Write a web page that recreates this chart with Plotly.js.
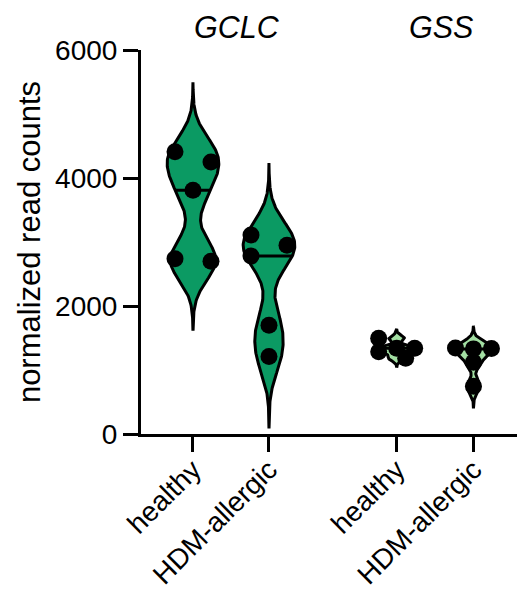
<!DOCTYPE html>
<html><head><meta charset="utf-8">
<script src="https://cdn.plot.ly/plotly-3.0.1.min.js"></script>
<style>html,body{margin:0;padding:0;background:#fff}</style>
</head><body><div id="chart" style="width:517px;height:593px"></div>
<script>
// ---- data ----
const genes = ["GCLC", "GSS"];
const groupLabels = ["healthy", "HDM-allergic", "healthy", "HDM-allergic"];
const gclcHealthy = [4410, 4250, 3810, 2740, 2700];
const gclcAllergic = [3110, 2950, 2780, 1700, 1210];
const gssHealthy = [1495, 1340, 1340, 1285, 1185];
const gssAllergic = [1345, 1335, 1330, 1120, 745];
const yTicks = [0, 2000, 4000, 6000];

// ---- layout / style ----
const series = [gclcHealthy, gclcAllergic, gssHealthy, gssAllergic];
const positions = [0, 1, 2.68, 3.69];
const geneOf = [0, 0, 1, 1];
const fills = ["#0B9A63", "#0B9A63", "#A3DFA3", "#A3DFA3"];
const halfWidths = [0.34, 0.34, 0.26, 0.26];
const W = 517, H = 593, ML = 141, MR = 0, MT = 50, MB = 159;
const xRange = [-0.684, 4.263], yRange = [0, 6000];
const pxX = (W - ML - MR) / (xRange[1] - xRange[0]);
const pxY = (H - MT - MB) / (yRange[1] - yRange[0]);
const LW = 3;

function sd(v){const m=v.reduce((a,b)=>a+b,0)/v.length;return Math.sqrt(v.reduce((a,b)=>a+(b-m)*(b-m),0)/(v.length-1));}
function kde(v,bw,y){let s=0;for(const x of v){const z=(y-x)/bw;s+=Math.exp(-0.5*z*z);}return s;}
function median(v){const s=[...v].sort((a,b)=>a-b);const n=s.length;return n%2?s[(n-1)/2]:(s[n/2-1]+s[n/2])/2;}

function swarm(vals){
  const n=vals.length, D=18, T=12.75;
  const order=vals.map((v,i)=>i).sort((a,b)=>vals[b]-vals[a]);
  const off=new Array(n).fill(0), placed=[];
  order.forEach((i,k)=>{
    const yp=vals[i]*pxY;
    const prev=k>0?vals[order[k-1]]*pxY:null, next=k<n-1?vals[order[k+1]]*pxY:null;
    const inCl=(prev!==null&&Math.abs(prev-yp)<T)||(next!==null&&Math.abs(next-yp)<T);
    const cands=inCl?[-D,D,0,-D/2,D/2,-1.5*D,1.5*D,-2*D,2*D]:[0,-D/2,D/2,-D,D,-2*D,2*D];
    let chosen=cands[cands.length-1];
    for(const c of cands){
      if(placed.every(p=>Math.hypot(p.x-c,p.y-yp)>=T)){chosen=c;break;}
    }
    placed.push({x:chosen,y:yp}); off[i]=chosen/pxX;
  });
  return off;
}

const traces=[], medTraces=[], ptTraces=[];
series.forEach((vals,j)=>{
  const n=vals.length, bw=0.54*sd(vals)*Math.pow(n,-0.2);
  const lo=Math.min(...vals)-3.4*bw, hi=Math.max(...vals)+3.4*bw;
  const N=240, ys=[], ds=[];
  for(let k=0;k<=N;k++){const y=lo+(hi-lo)*k/N;ys.push(y);ds.push(kde(vals,bw,y));}
  const mx=Math.max(...ds);
  const hw=ds.map(d=>halfWidths[j]*d/mx);
  const xs=[], yy=[];
  for(let k=0;k<=N;k++){xs.push(positions[j]+hw[k]);yy.push(ys[k]);}
  for(let k=N;k>=0;k--){xs.push(positions[j]-hw[k]);yy.push(ys[k]);}
  traces.push({type:'scatter',mode:'lines',x:xs,y:yy,fill:'toself',fillcolor:fills[j],
    line:{color:'black',width:LW},hoverinfo:'skip',cliponaxis:false});
  const m=median(vals), mw=halfWidths[j]*kde(vals,bw,m)/mx;
  medTraces.push({type:'scatter',mode:'lines',x:[positions[j]-mw,positions[j]+mw],y:[m,m],
    line:{color:'black',width:LW},hoverinfo:'skip'});
  const off=swarm(vals);
  ptTraces.push({type:'scatter',mode:'markers',x:vals.map((v,i)=>positions[j]+off[i]),y:vals,
    marker:{color:'black',size:17,line:{width:0}},cliponaxis:false,hoverinfo:'skip'});
});

const annotations=genes.map((g,gi)=>{
  const ps=positions.filter((p,j)=>geneOf[j]===gi);
  return {text:g,xref:'x',yref:'paper',x:(ps[0]+ps[ps.length-1])/2,y:1+23/(H-MT-MB),
    xshift:6,yanchor:'middle',xanchor:'center',showarrow:false,
    font:{size:30.5,style:'italic',family:'Liberation Sans, Arial, sans-serif',color:'black'}};
});

const layout={
  width:W,height:H,margin:{l:ML,r:MR,t:MT,b:MB,pad:0},
  paper_bgcolor:'white',plot_bgcolor:'white',showlegend:false,
  font:{family:'Liberation Sans, Arial, sans-serif',color:'black',size:28},
  xaxis:{range:xRange,tickmode:'array',tickvals:positions,ticktext:groupLabels,tickangle:-45,
    ticks:'outside',ticklen:15,tickwidth:LW,tickcolor:'black',showline:true,linewidth:LW,
    linecolor:'black',showgrid:false,zeroline:false,tickfont:{size:28},ticklabelstandoff:-10},
  yaxis:{range:yRange,tickmode:'array',tickvals:yTicks,ticks:'outside',ticklen:15,tickwidth:LW,
    tickcolor:'black',showline:true,linewidth:LW,linecolor:'black',showgrid:false,zeroline:false,
    tickfont:{size:28},title:{text:'normalized read counts',font:{size:31},standoff:6}},
  annotations:annotations
};
Plotly.newPlot('chart',[...traces,...medTraces,...ptTraces],layout,{displayModeBar:false,staticPlot:true});
</script></body></html>
